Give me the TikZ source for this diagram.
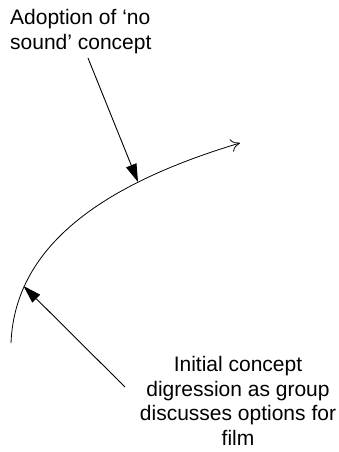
\documentclass[tikz,border=0pt]{standalone}
\usepackage{fontspec}
\setmainfont{Liberation Sans}
\usetikzlibrary{arrows.meta}
\begin{document}
\begin{tikzpicture}[x=1pt,y=1pt,
  lbl/.style={inner sep=0pt, font=\fontsize{21}{24.5}\selectfont},
  pointer/.style={line width=0.9pt, -{Triangle[length=18pt,width=11pt]}},
  pathline/.style={line width=0.8pt, -{Computer Modern Rightarrow[length=9pt,width=13pt]}}]
\useasboundingbox (0,0) rectangle (339,452);
% texts
\node[lbl, anchor=north west, align=left] (top) at (10,442.5) {Adoption of ‘no\\sound’ concept};
\node[lbl, anchor=north, align=center] (bot) at (238,95.8) {Initial concept\\digression as group\\discusses options for\\film};
% curve
\coordinate (c0) at (11,109);
\coordinate (c1) at (240,309);
\draw[pathline] (c0) .. controls (15,210) and (110,270) .. (c1);
% pointer ends
\coordinate (ta) at (88,394);
\coordinate (tb) at (138,270);
\coordinate (ba) at (125,65);
\coordinate (bb) at (23.5,166);
\draw[pointer] (ta) -- (tb);
\draw[pointer] (ba) -- (bb);
\end{tikzpicture}
\end{document}
